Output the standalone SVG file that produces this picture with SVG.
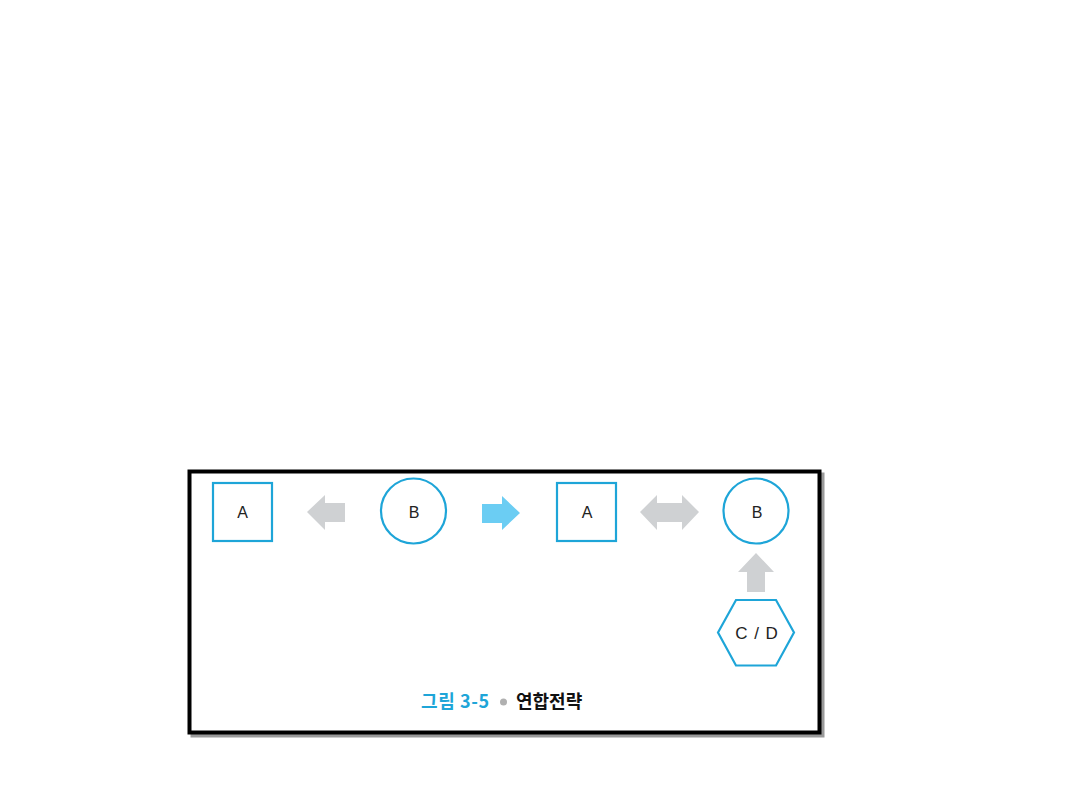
<svg xmlns="http://www.w3.org/2000/svg" width="1080" height="810" viewBox="0 0 1080 810">
<style>
.node{fill:#fff;stroke:#1ea5d8;stroke-width:2.2}
.lbl{font-family:"Liberation Sans",Arial,sans-serif;font-size:16px;fill:#222;text-anchor:middle}
.g{fill:#cfd1d3}
.b{fill:#6bcdf3}
</style>
<rect width="1080" height="810" fill="#fff"/>
<g id="frame">
<rect x="192.5" y="474.5" width="630" height="261" fill="none" stroke="#9a9a9a" stroke-width="4"/>
<rect x="189.5" y="471.5" width="630" height="261" fill="#fff" stroke="#000" stroke-width="4"/>
</g>
<g id="connectors">
<polygon class="g" points="307,512 325,495 325,503 345,503 345,522 325,522 325,530"/>
<polygon class="b" points="520,513 502,496 502,504 482,504 482,523 502,523 502,530"/>
<polygon class="g" points="640,512 657,495 657,503 682,503 682,495 699,512 682,530 682,522 657,522 657,530"/>
<polygon class="g" points="756,553 774,572 765,572 765,592 747,592 747,572 738,572"/>
</g>
<g id="nodeA1">
<rect class="node" x="213" y="483" width="59" height="58"/>
<text class="lbl" x="242.5" y="518">A</text>
</g>
<g id="nodeB1">
<circle class="node" cx="413.5" cy="511" r="32.5"/>
<text class="lbl" x="414" y="518">B</text>
</g>
<g id="nodeA2">
<rect class="node" x="557" y="483" width="59" height="58"/>
<text class="lbl" x="587" y="518">A</text>
</g>
<g id="nodeB2">
<circle class="node" cx="756" cy="511" r="32.5"/>
<text class="lbl" x="757" y="518">B</text>
</g>
<g id="nodeCD">
<polygon class="node" points="718,632.5 736,600 776,600 794,632.5 776,665.5 736,665.5"/>
<text class="lbl" x="757" y="639" style="font-size:17px;letter-spacing:1px">C / D</text>
</g>
<g id="caption">
<text x="421" y="708" font-family="'Noto Sans CJK KR','Liberation Sans',sans-serif" font-size="18" font-weight="bold" fill="#1ea5d8" textLength="68" lengthAdjust="spacing">그림 3-5</text>
<circle cx="503.5" cy="702" r="3.5" fill="#b0b0b0"/>
<text x="516" y="708" font-family="'Noto Sans CJK KR',sans-serif" font-size="18" font-weight="bold" fill="#111">연합전략</text>
</g>
</svg>
